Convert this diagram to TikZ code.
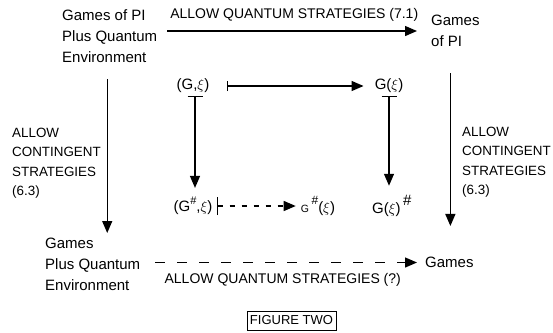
\documentclass[tikz,border=0pt]{standalone}
\usepackage{fontspec}
\setmainfont{Liberation Sans}
\usetikzlibrary{arrows.meta}

\tikzset{
  bigtext/.style={font=\fontsize{15}{21}\selectfont, align=left, inner sep=0pt},
  smalltext/.style={font=\fontsize{14}{19.3}\selectfont, align=left, inner sep=0pt},
  sidetext/.style={smalltext, font=\fontsize{13.4}{19.3}\selectfont},
  termtext/.style={font=\fontsize{15}{18}\selectfont, inner sep=0pt},
  arr/.style={line width=1.3pt, -{Triangle[length=12pt,width=10pt]}},
  maparr/.style={line width=1.3pt, {Bar[width=#1]}-{Triangle[length=12pt,width=10pt]}},
  maparr/.default=12pt,
  longdash/.style={dash pattern=on 10pt off 12pt},
  shortdash/.style={dash pattern=on 5pt off 7pt},
}

\begin{document}
\begin{tikzpicture}[x=1pt, y=-1pt]
  \useasboundingbox (0,0) rectangle (553,332);

  % Categories of games
  \node[bigtext, anchor=north west] (gpq) at (62,9) {Games of PI\\Plus Quantum\\Environment};
  \node[bigtext, anchor=north west] (gpi) at (431,15) {Games\\of PI};
  \node[bigtext, anchor=north west] (gpe) at (45,238) {Games\\Plus Quantum\\Environment};
  \node[bigtext, anchor=west] (ga) at (425,262.5) {Games};

  % Objects
  \node[termtext] (gx) at (193,86) {(G,$\xi$)};
  \node[termtext] (gofx) at (389,86) {G($\xi$)};
  \node[termtext] (gsx) at (193,206) {(G\raisebox{0.9ex}{\fontsize{11}{12}\selectfont\#},$\xi$)};
  \node[termtext] (gsofx) at (318,206) {{\fontsize{10.5}{12}\selectfont G}\,\raisebox{0.9ex}{\fontsize{12}{12}\selectfont\#}($\xi$)};
  \node[termtext, anchor=west] (gofxs) at (372,206) {G($\xi$)\,\raisebox{1.1ex}{\#}};

  % Side labels
  \node[sidetext, anchor=north west] (lcont) at (12,128) {ALLOW\\CONTINGENT\\STRATEGIES\\(6.3)};
  \node[sidetext, anchor=north west] (rcont) at (462,127) {ALLOW\\CONTINGENT\\STRATEGIES\\(6.3)};

  % Functors
  \draw[arr, shorten <=10pt, shorten >=14pt] (gpq.east |- gpi.west) -- (gpi.west)
    node[midway, above=9pt, smalltext] {ALLOW QUANTUM STRATEGIES (7.1)};
  \draw[arr, shorten <=17pt, shorten >=5pt] ([xshift=-2.5pt]gpq.south) -- ([xshift=-2.5pt]gpq.south |- gpe.north);
  \draw[arr, shorten <=26pt, shorten >=31pt] ([xshift=-5pt]gpi.south) -- ([xshift=-5pt]gpi.south |- ga.north);
  \draw[arr, longdash, shorten <=15pt, shorten >=8pt] (gpe.east |- ga.west) -- (ga.west)
    node[midway, below=10pt, smalltext] {ALLOW QUANTUM STRATEGIES (?)};

  % Maps between objects
  \draw[maparr=10pt, shorten <=17pt, shorten >=11pt] (gx.east) -- (gx.east -| gofx.west);
  \draw[maparr=15pt, shorten <=3pt, shorten >=9pt] ([xshift=2pt]gx.south) -- ([xshift=2pt]gx.south |- gsx.north);
  \draw[maparr=15pt, shorten <=3pt, shorten >=9pt] (gofx.south) -- (gofx.south |- gofxs.north);
  \draw[maparr=18pt, shortdash, shorten <=4pt, shorten >=5pt] (gsx.east) -- (gsx.east -| gsofx.west);

  % Caption
  \node[draw, line width=0.6pt, inner sep=0pt, minimum width=89pt, minimum height=19pt,
    font=\fontsize{13}{15}\selectfont] (fig) at (291.5,320.5) {FIGURE TWO};
\end{tikzpicture}
\end{document}
